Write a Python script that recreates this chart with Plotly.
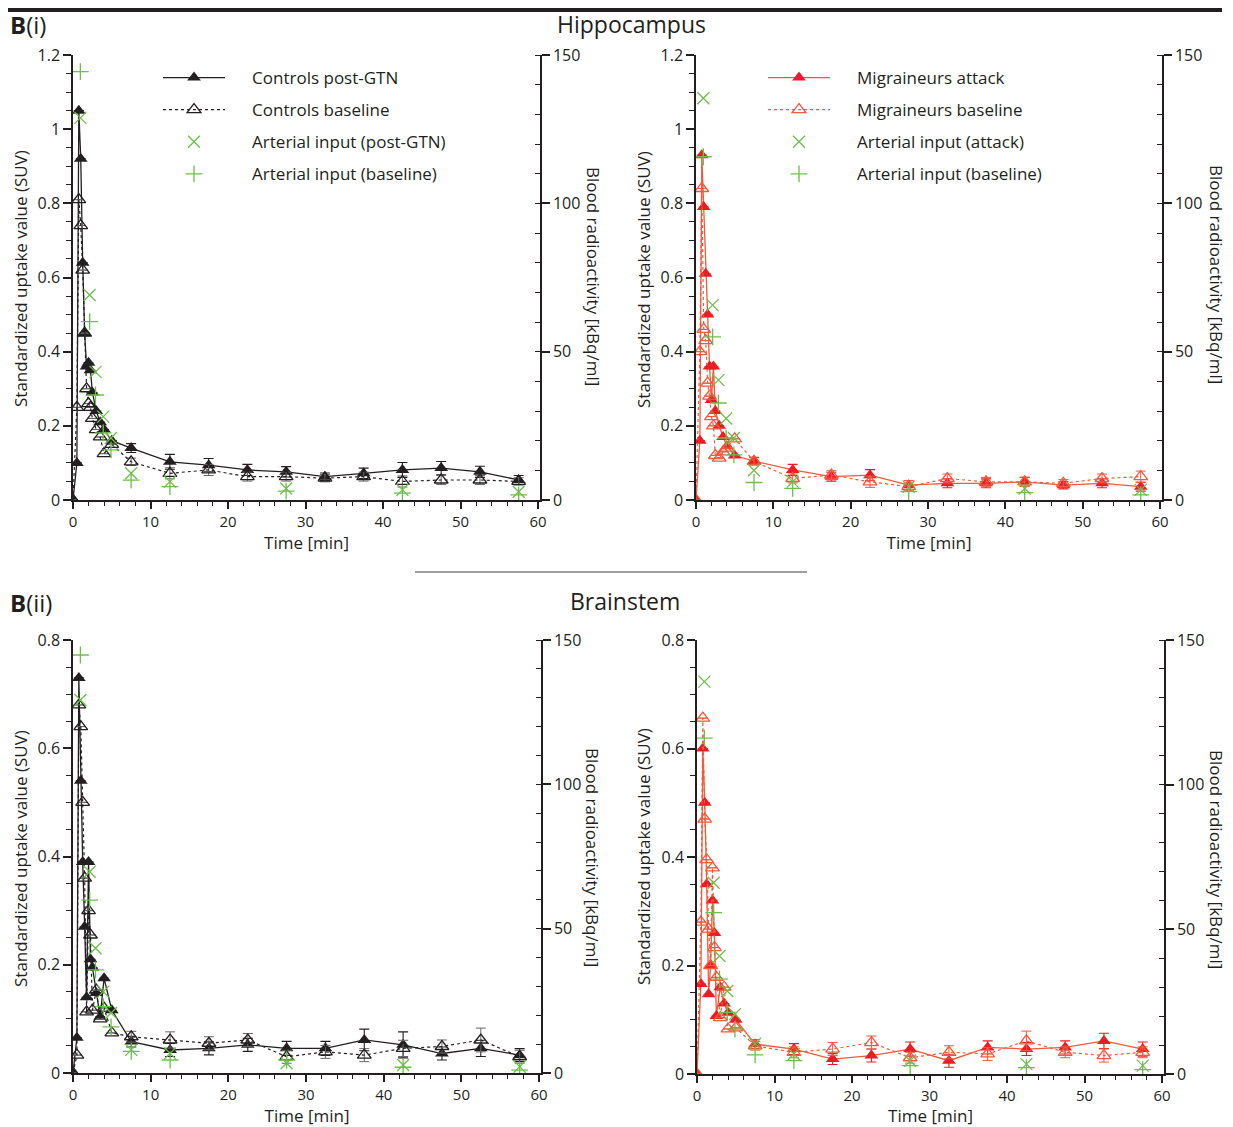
import plotly.graph_objects as go

# ---------------- data ----------------
T = [0, 0.5, 0.75, 1.0, 1.25, 1.5, 1.75, 2.0, 2.25, 2.5, 3.0, 3.5, 4.0, 5.0,
     7.5, 12.5, 17.5, 22.5, 27.5, 32.5, 37.5, 42.5, 47.5, 52.5, 57.5]
TA = [0.95, 2.15, 2.9, 3.9, 4.9, 7.5, 12.5, 27.5, 42.5, 57.5]
EARLY0 = [0] * 14

# Hippocampus - controls
hip_ctrl_gtn = [0, 0.10, 1.05, 0.92, 0.64, 0.45, 0.36, 0.37, 0.35, 0.29, 0.24, 0.21, 0.19, 0.16,
                0.14, 0.103, 0.094, 0.081, 0.076, 0.063, 0.072, 0.081, 0.086, 0.076, 0.054]
hip_ctrl_gtn_err = EARLY0 + [0.012, 0.02, 0.018, 0.015, 0.014, 0.01, 0.014, 0.02, 0.018, 0.015, 0.012]
hip_ctrl_base = [0, 0.25, 0.81, 0.74, 0.62, 0.45, 0.30, 0.26, 0.25, 0.22, 0.19, 0.17, 0.125, 0.15,
                 0.103, 0.072, 0.081, 0.063, 0.063, 0.059, 0.063, 0.05, 0.054, 0.054, 0.05]
hip_ctrl_base_err = EARLY0 + [0.01, 0.015, 0.015, 0.012, 0.012, 0.01, 0.012, 0.015, 0.012, 0.012, 0.01]
hip_ctrl_art_gtn = [128.8, 69.1, 43.2, 28.1, 20.9, 9.0, 6.2, 3.9, 3.4, 2.8]
hip_ctrl_art_base = [144.4, 60.1, 35.4, 22.6, 16.9, 6.7, 4.5, 3.0, 2.3, 1.7]

# Hippocampus - migraineurs
hip_mig_att = [0, 0.16, 0.93, 0.79, 0.61, 0.50, 0.36, 0.27, 0.36, 0.24, 0.20, 0.17, 0.145, 0.12,
               0.105, 0.081, 0.063, 0.067, 0.040, 0.045, 0.045, 0.049, 0.040, 0.045, 0.036]
hip_mig_att_err = EARLY0 + [0.01, 0.015, 0.012, 0.015, 0.012, 0.012, 0.012, 0.012, 0.01, 0.012, 0.012]
hip_mig_base = [0, 0.40, 0.84, 0.46, 0.43, 0.315, 0.28, 0.225, 0.20, 0.12, 0.113, 0.13, 0.14, 0.165,
                0.104, 0.058, 0.067, 0.049, 0.036, 0.058, 0.049, 0.049, 0.045, 0.058, 0.063]
hip_mig_base_err = EARLY0 + [0.01, 0.012, 0.012, 0.015, 0.01, 0.012, 0.012, 0.012, 0.01, 0.012, 0.015]
hip_mig_art_att = [135.4, 65.7, 40.4, 27.5, 20.9, 10.0, 6.2, 4.5, 3.9, 3.4]
hip_mig_art_base = [115.7, 55.0, 32.7, 20.9, 15.2, 5.9, 3.9, 2.8, 2.5, 1.7]

# Brainstem - controls
bs_ctrl_gtn = [0, 0.065, 0.73, 0.54, 0.39, 0.27, 0.14, 0.39, 0.21, 0.195, 0.148, 0.104, 0.175, 0.116,
               0.058, 0.0425, 0.0455, 0.052, 0.0455, 0.0455, 0.061, 0.052, 0.036, 0.0455, 0.033]
bs_ctrl_gtn_err = EARLY0 + [0.01, 0.012, 0.012, 0.012, 0.013, 0.013, 0.02, 0.024, 0.012, 0.015, 0.012]
bs_ctrl_base = [0, 0.033, 0.68, 0.64, 0.50, 0.36, 0.113, 0.30, 0.255, 0.116, 0.153, 0.10, 0.12, 0.074,
                0.067, 0.061, 0.055, 0.061, 0.030, 0.039, 0.033, 0.0455, 0.049, 0.061, 0.030]
bs_ctrl_base_err = EARLY0 + [0.01, 0.015, 0.012, 0.012, 0.012, 0.012, 0.012, 0.015, 0.012, 0.022, 0.012]
bs_ctrl_art_gtn = [129.2, 69.7, 43.2, 28.2, 20.8, 8.0, 6.8, 3.4, 2.8, 2.2]
bs_ctrl_art_base = [144.8, 59.9, 35.7, 23.0, 16.0, 7.5, 4.5, 4.5, 2.0, 1.0]

# Brainstem - migraineurs
bs_mig_att = [0, 0.166, 0.60, 0.50, 0.35, 0.147, 0.20, 0.32, 0.26, 0.107, 0.16, 0.13, 0.113, 0.10,
              0.055, 0.046, 0.0276, 0.034, 0.046, 0.0245, 0.049, 0.046, 0.049, 0.061, 0.046]
bs_mig_att_err = EARLY0 + [0.008, 0.01, 0.01, 0.012, 0.013, 0.012, 0.012, 0.012, 0.012, 0.014, 0.013]
bs_mig_base = [0, 0.28, 0.656, 0.47, 0.395, 0.267, 0.20, 0.38, 0.233, 0.178, 0.104, 0.16, 0.083, 0.085,
               0.052, 0.040, 0.046, 0.058, 0.030, 0.040, 0.037, 0.061, 0.040, 0.034, 0.040]
bs_mig_base_err = EARLY0 + [0.008, 0.01, 0.012, 0.012, 0.01, 0.012, 0.012, 0.018, 0.01, 0.012, 0.01]
bs_mig_art_att = [135.6, 66.1, 40.8, 28.7, 20.7, 10.5, 6.9, 4.6, 3.4, 2.9]
bs_mig_art_base = [116.1, 55.8, 32.8, 21.3, 15.5, 6.6, 4.6, 2.9, 2.2, 1.5]

X_TICKS = [0, 10, 20, 30, 40, 50, 60]
R_TICKS = [0, 50, 100, 150]

# ---------------- styling ----------------
# the page body has an 8px margin: size the figure to fit the window exactly
OFF = 8
W, H = 1233 - OFF, 1127 - OFF
FONT = "Open Sans"
INK = "#231f20"
RED = "#ed1c24"
RED_L = "#f15a3a"
GREEN = "#6dbf4b"
NB = "\u00a0" * 5


def px(x):
    return (x - OFF) / W


def py(y):
    return 1 - (y - OFF) / H


fig = go.Figure()


def add_panel(n, xdom, ydom, ymax, filled, ferr, opn, oerr, art1, art2, names, ctrl, legend, showleg):
    xa = "x" if n == 1 else f"x{n}"
    yl = 2 * n - 1
    yr = 2 * n
    yla = "y" if yl == 1 else f"y{yl}"
    yra = f"y{yr}"
    lc = INK if ctrl else RED_L
    mc = INK if ctrl else RED
    oc = INK if ctrl else RED_L
    ec_open = "#666666" if ctrl else RED_L
    fig.add_trace(go.Scatter(
        x=T, y=filled, mode="lines+markers", name=NB + names[0], xaxis=xa, yaxis=yla,
        line=dict(color=lc, width=1.3),
        marker=dict(symbol="triangle-up", size=12, color=mc),
        error_y=dict(type="data", array=ferr, color=mc, thickness=1.1, width=5),
        legend=legend, showlegend=showleg, legendgroup=f"{legend}a"))
    fig.add_trace(go.Scatter(
        x=T, y=opn, mode="lines+markers", name=NB + names[1], xaxis=xa, yaxis=yla,
        line=dict(color=lc, width=1.2, dash="dot"),
        marker=dict(symbol="triangle-up-open", size=12, color=oc, line=dict(width=1.3, color=oc)),
        error_y=dict(type="data", array=oerr, color=ec_open, thickness=1.0, width=5),
        legend=legend, showlegend=showleg, legendgroup=f"{legend}b"))
    fig.add_trace(go.Scatter(
        x=TA, y=art1, mode="markers", name=NB + names[2], xaxis=xa, yaxis=yra,
        marker=dict(symbol="x-thin-open", size=12, color=GREEN, line=dict(width=1.3, color=GREEN)),
        legend=legend, showlegend=showleg, legendgroup=f"{legend}c"))
    fig.add_trace(go.Scatter(
        x=TA, y=art2, mode="markers", name=NB + names[3], xaxis=xa, yaxis=yra,
        marker=dict(symbol="cross-thin-open", size=12, color=GREEN, line=dict(width=1.3, color=GREEN)),
        legend=legend, showlegend=showleg, legendgroup=f"{legend}d"))

    axline = dict(showline=True, linecolor=INK, linewidth=1.5, showgrid=False, zeroline=False,
                  automargin=False,
                  tickcolor=INK, tickwidth=1.5, tickfont=dict(family=FONT, size=16, color=INK))
    xkey = "xaxis" if n == 1 else f"xaxis{n}"
    ykl = "yaxis" if yl == 1 else f"yaxis{yl}"
    ykr = f"yaxis{yr}"
    fig.update_layout(**{
        xkey: dict(axline, domain=[px(xdom[0]), px(xdom[1])], range=[0, 60.25], anchor=yla,
                   tickmode="array", tickvals=X_TICKS, ticks="outside", ticklen=7,
                   tickfont=dict(family=FONT, size=15, color=INK),
                   minor=dict(tick0=0, dtick=2, ticks="outside", ticklen=4, tickwidth=1.2, tickcolor=INK),
                   title=dict(text="Time [min]", font=dict(family=FONT, size=17, color=INK), standoff=5)),
        ykl: dict(axline, domain=[py(ydom[1]), py(ydom[0])], range=[0, ymax], anchor=xa,
                  tick0=0, dtick=0.2, ticks="outside", ticklen=8,
                  minor=dict(tick0=0, dtick=0.05, ticks="outside", ticklen=5, tickwidth=1.2, tickcolor=INK)),
        ykr: dict(axline, overlaying=yla, side="right", range=[0, 150], anchor=xa,
                  tickmode="array", tickvals=R_TICKS, ticks="outside", ticklen=8,
                  minor=dict(tick0=0, dtick=10, ticks="inside", ticklen=5, tickwidth=1.2, tickcolor=INK)),
    })


add_panel(1, (73, 540), (55, 500), 1.2, hip_ctrl_gtn, hip_ctrl_gtn_err, hip_ctrl_base, hip_ctrl_base_err,
          hip_ctrl_art_gtn, hip_ctrl_art_base,
          ["Controls post-GTN", "Controls baseline", "Arterial input (post-GTN)", "Arterial input (baseline)"],
          True, "legend", True)
add_panel(2, (696, 1162), (55, 500), 1.2, hip_mig_att, hip_mig_att_err, hip_mig_base, hip_mig_base_err,
          hip_mig_art_att, hip_mig_art_base,
          ["Migraineurs attack", "Migraineurs baseline", "Arterial input (attack)", "Arterial input (baseline)"],
          False, "legend2", True)
add_panel(3, (73, 541), (640, 1073), 0.8, bs_ctrl_gtn, bs_ctrl_gtn_err, bs_ctrl_base, bs_ctrl_base_err,
          bs_ctrl_art_gtn, bs_ctrl_art_base,
          ["Controls post-GTN", "Controls baseline", "Arterial input (post-GTN)", "Arterial input (baseline)"],
          True, "legend", False)
add_panel(4, (697, 1164), (640, 1074), 0.8, bs_mig_att, bs_mig_att_err, bs_mig_base, bs_mig_base_err,
          bs_mig_art_att, bs_mig_art_base,
          ["Migraineurs attack", "Migraineurs baseline", "Arterial input (attack)", "Arterial input (baseline)"],
          False, "legend2", False)

leg_common = dict(xanchor="left", yanchor="top", bgcolor="rgba(0,0,0,0)", traceorder="grouped",
                  tracegroupgap=7, itemwidth=62, font=dict(family=FONT, size=17, color=INK))
fig.update_layout(
    legend=dict(leg_common, x=px(158), y=py(60)),
    legend2=dict(leg_common, x=px(763), y=py(60)),
)

ann = []


def txt(x, y, s, size=16, angle=0, xanchor="center"):
    ann.append(dict(x=px(x), y=py(y), xref="paper", yref="paper", text=s, showarrow=False,
                    textangle=angle, xanchor=xanchor, yanchor="middle",
                    font=dict(family=FONT, size=size, color=INK)))


txt(8, 24, "<b>B</b>(i)", 24, xanchor="left")
txt(631, 24, "Hippocampus", 23)
txt(8, 603, "<b>B</b>(ii)", 24, xanchor="left")
txt(625, 601, "Brainstem", 23)
for (xl, yl_, xr, yr_) in [(20, 279, 593, 276), (643, 280, 1217, 274),
                           (20, 859, 593, 857), (643, 857, 1217, 859)]:
    txt(xl, yl_, "Standardized uptake value (SUV)", 17, angle=-90)
    txt(xr, yr_, "Blood radioactivity [kBq/ml]", 17, angle=90)

fig.update_layout(
    annotations=ann,
    shapes=[
        dict(type="rect", xref="paper", yref="paper", x0=0, x1=px(1222), y0=py(12), y1=1,
             fillcolor=INK, line=dict(width=0)),
        dict(type="line", xref="paper", yref="paper", x0=px(415), x1=px(807), y0=py(572), y1=py(572),
             line=dict(color="#7f7f7f", width=1.5)),
    ],
    width=W, height=H, margin=dict(l=0, r=0, t=0, b=0, pad=0, autoexpand=False),
    paper_bgcolor="white", plot_bgcolor="white",
    font=dict(family=FONT, color=INK),
)

fig.write_html("out.html")
